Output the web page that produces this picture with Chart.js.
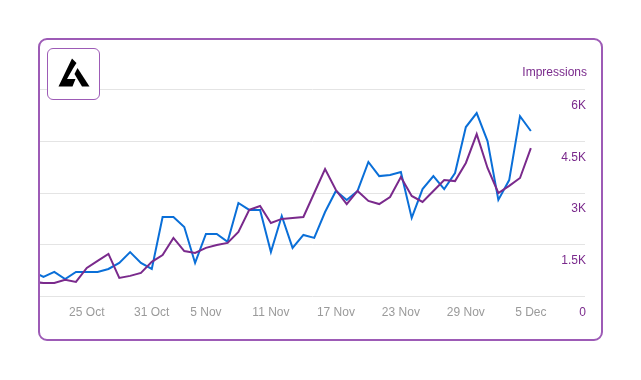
<!DOCTYPE html>
<html>
<head>
<meta charset="utf-8">
<script src="https://cdn.jsdelivr.net/npm/chart.js@4.4.1/dist/chart.umd.min.js"></script>
<style>
  html, body { margin: 0; padding: 0; background: #fff; }
  body { width: 641px; height: 380px; position: relative; overflow: hidden; }
  .card {
    position: absolute; left: 38px; top: 38px; width: 561px; height: 299px;
    border: 2px solid #9d5bb6; border-radius: 9px;
  }
  .chartWrap { position: absolute; left: 40px; top: 50px; width: 547px; height: 279px; }
  .logo {
    position: absolute; left: 47px; top: 48px; width: 51px; height: 50px;
    border: 1.5px solid #9d5bb6; border-radius: 6px; background: #fff; z-index: 2;
  }
</style>
</head>
<body>
<div class="card"></div>
<div class="chartWrap"><canvas id="myChart"></canvas></div>
<div class="logo">
  <svg width="51" height="50" viewBox="0 0 51 50">
    <polygon points="24,9.5 28.5,14 25,19.5 19,30 27.5,30 24.5,37.5 10.5,37.5" fill="#000"/>
    <polygon points="29.5,19 41.5,37.5 34,37.5 26.5,25" fill="#000"/>
  </svg>
</div>
<script>
// one value per day, 20 Oct .. 5 Dec
const dayLabels = [
  "20 Oct", "21 Oct", "22 Oct", "23 Oct", "24 Oct", "25 Oct", "26 Oct", "27 Oct", "28 Oct", "29 Oct", "30 Oct", "31 Oct",
  "1 Nov", "2 Nov", "3 Nov", "4 Nov", "5 Nov", "6 Nov", "7 Nov", "8 Nov", "9 Nov", "10 Nov", "11 Nov", "12 Nov",
  "13 Nov", "14 Nov", "15 Nov", "16 Nov", "17 Nov", "18 Nov", "19 Nov", "20 Nov", "21 Nov", "22 Nov", "23 Nov", "24 Nov",
  "25 Nov", "26 Nov", "27 Nov", "28 Nov", "29 Nov", "30 Nov", "1 Dec", "2 Dec", "3 Dec", "4 Dec", "5 Dec"
];
const tickLabels = ["25 Oct", "31 Oct", "5 Nov", "11 Nov", "17 Nov", "23 Nov", "29 Nov", "5 Dec"];

const blueSeries = [
  740, 570, 715, 510, 715, 715, 715, 800, 975, 1290, 975, 800,
  2305, 2305, 2015, 975, 1815, 1815, 1585, 2710, 2510, 2510, 1290, 2335,
  1410, 1785, 1700, 2450, 3060, 2800, 3060, 3900, 3490, 3520, 3610, 2280,
  3115, 3490, 3115, 3580, 4910, 5315, 4505, 2800, 3375, 5225, 4795
];
const impressions = [
  425, 395, 395, 485, 425, 830, 1035, 1235, 540, 600, 685, 1005,
  1205, 1700, 1320, 1265, 1410, 1495, 1555, 1870, 2510, 2625, 2130, 2250,
  2275, 2305, 3000, 3695, 3085, 2680, 3060, 2770, 2680, 2885, 3465, 2915,
  2740, 3060, 3375, 3345, 3870, 4705, 3725, 3000, 3205, 3435, 4300
];
const yTicks = [0, 1500, 3000, 4500, 6000];

const purple = "#7a2a8c";
Chart.defaults.font.family = "'Liberation Sans', Arial, sans-serif";
Chart.defaults.font.size = 12;

const ctx = document.getElementById("myChart").getContext("2d");
new Chart(ctx, {
  type: "line",
  data: {
    datasets: [{
      label: "Impressions",
      data: impressions.map((v, i) => ({ x: i, y: v })),
      borderColor: purple,
      borderWidth: 2,
      pointRadius: 0,
      tension: 0
    }, {
      label: "Clicks",
      data: blueSeries.map((v, i) => ({ x: i, y: v })),
      borderColor: "#0a6fd8",
      borderWidth: 2,
      pointRadius: 0,
      tension: 0
    }]
  },
  options: {
    responsive: true,
    maintainAspectRatio: false,
    animation: false,
    layout: { padding: 0 },
    plugins: {
      legend: { display: false },
      tooltip: { enabled: false },
      title: {
        display: true,
        text: "Impressions",
        align: "end",
        color: purple,
        font: { size: 12, weight: "normal" },
        padding: { top: 15, bottom: 10 }
      }
    },
    scales: {
      x: {
        type: "linear",
        min: 0.68,
        max: 51,
        grid: { display: false, drawTicks: false },
        border: { display: false },
        afterBuildTicks: (scale) => {
          scale.ticks = tickLabels.map(t => ({ value: dayLabels.indexOf(t) }));
        },
        ticks: {
          color: "#9a9a9a",
          padding: 9,
          maxRotation: 0,
          autoSkip: false,
          callback: (v) => dayLabels[v]
        }
      },
      y: {
        position: "right",
        min: 0,
        max: 6000,
        afterBuildTicks: (scale) => {
          scale.ticks = yTicks.map(v => ({ value: v }));
        },
        grid: { color: "#e4e4e4", drawTicks: false },
        border: { display: false },
        ticks: {
          mirror: true,
          labelOffset: 16,
          padding: 1,
          color: purple,
          callback: (v) => v === 0 ? "0" : (v / 1000) + "K"
        }
      }
    }
  }
});
</script>
</body>
</html>
